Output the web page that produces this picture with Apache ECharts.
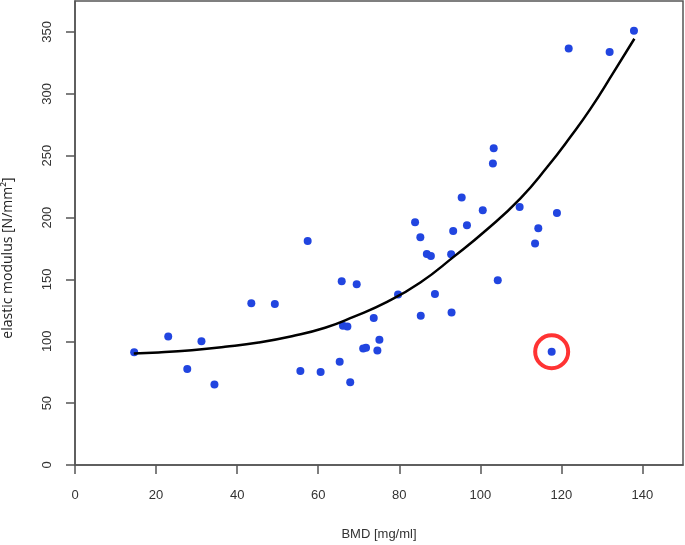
<!DOCTYPE html>
<html>
<head>
<meta charset="utf-8">
<script src="https://cdn.jsdelivr.net/npm/echarts@6/dist/echarts.min.js"></script>
<style>
html,body{margin:0;padding:0;background:#fff;}
#chart{width:685px;height:545px;}
</style>
</head>
<body>
<div id="chart"></div>
<script>
// Data
var bmd = [14.6, 23.0, 27.7, 31.2, 34.4, 43.5, 49.3, 55.6, 57.4, 60.6,
           65.8, 69.5, 65.3, 66.1, 67.2, 67.9, 73.7, 71.1, 71.8, 74.6,
           75.1, 79.7, 85.3, 88.8, 92.9, 86.8, 87.8, 92.8, 113.5, 104.3,
           117.6, 137.9, 121.8, 131.9, 103.3, 103.1, 95.4, 100.6, 109.7, 118.9,
           83.9, 96.7, 93.3, 85.2, 114.3];
var modulus = [91.2, 103.9, 77.5, 100.1, 65.1, 130.8, 130.2, 75.9, 181.1, 75.1,
               148.6, 146.1, 83.4, 112.5, 112.0, 66.8, 118.9, 94.2, 94.7, 92.6,
               101.2, 137.8, 120.6, 138.3, 123.3, 170.6, 169.0, 170.4, 179.0, 149.4,
               91.5, 350.9, 336.7, 333.7, 255.9, 243.6, 216.1, 205.9, 208.5, 203.7,
               196.2, 193.8, 189.2, 184.1, 191.3];
var curveX = [14.5, 20.6, 28.8, 37.0, 45.3, 53.5, 61.7, 68.7, 77.0, 85.2,
              93.4, 101.7, 109.9, 116.5, 122.2, 127.2, 132.9, 138.0];
var curveY = [90.2, 91.0, 92.8, 95.5, 99.0, 104.1, 110.9, 119.7, 131.8, 147.5,
              168.2, 190.5, 215.5, 240.8, 265.1, 288.0, 317.5, 344.5];
var outlierX = [117.6];
var outlierY = [91.5];
var xTicks = [0, 20, 40, 60, 80, 100, 120, 140];
var yTicks = [0, 50, 100, 150, 200, 250, 300, 350];
var xTitle = 'BMD [mg/ml]';
var yTitle = 'elastic modulus [N/mm²]';

function pairs(xs, ys) {
  var out = [];
  for (var i = 0; i < xs.length; i++) out.push([xs[i], ys[i]]);
  return out;
}

var chart = echarts.init(document.getElementById('chart'), null, {renderer: 'canvas'});
var axisColor = '#555';
var labelFont = 'Liberation Sans, Arial, sans-serif';
chart.setOption({
  animation: false,
  backgroundColor: '#fff',
  grid: {left: 75, right: 2, top: 1, bottom: 80, show: true, borderColor: axisColor, borderWidth: 1.5,
         containLabel: false, outerBoundsMode: 'none'},
  xAxis: {
    type: 'value', min: 0, max: 150,
    name: xTitle, nameLocation: 'middle', nameGap: 63,
    nameTextStyle: {fontFamily: labelFont, fontSize: 13, color: '#333'},
    axisLine: {show: true, onZero: false, lineStyle: {color: axisColor, width: 1.5}},
    axisTick: {show: true, length: 9, customValues: xTicks, lineStyle: {color: axisColor, width: 1.5}},
    axisLabel: {customValues: xTicks, margin: 24, fontFamily: labelFont, fontSize: 13, color: '#333'},
    splitLine: {show: false}
  },
  yAxis: {
    type: 'value', min: 0, max: 375,
    name: yTitle, nameLocation: 'middle', nameGap: 60,
    nameTextStyle: {fontFamily: 'Open Sans, Noto Sans, sans-serif', fontSize: 14, color: '#222', padding: [0, 50, 0, 0]},
    axisLine: {show: true, onZero: false, lineStyle: {color: axisColor, width: 1.5}},
    axisTick: {show: true, length: 9, customValues: yTicks, lineStyle: {color: axisColor, width: 1.5}},
    axisLabel: {customValues: yTicks, rotate: 90, margin: 21, fontFamily: labelFont, fontSize: 13, color: '#333'},
    splitLine: {show: false}
  },
  series: [
    {
      type: 'scatter', data: pairs(bmd, modulus), symbol: 'circle', symbolSize: 8,
      itemStyle: {color: '#2145E0', opacity: 1}, z: 3
    },
    {
      type: 'line', data: pairs(curveX, curveY), smooth: true, showSymbol: false, symbol: 'none',
      lineStyle: {color: '#000', width: 2.5}, z: 4
    },
    {
      type: 'scatter', data: pairs(outlierX, outlierY), symbol: 'circle', symbolSize: 33,
      itemStyle: {color: 'rgba(0,0,0,0)', borderColor: '#ff0000', borderWidth: 4}, z: 5
    }
  ]
});
</script>
</body>
</html>
